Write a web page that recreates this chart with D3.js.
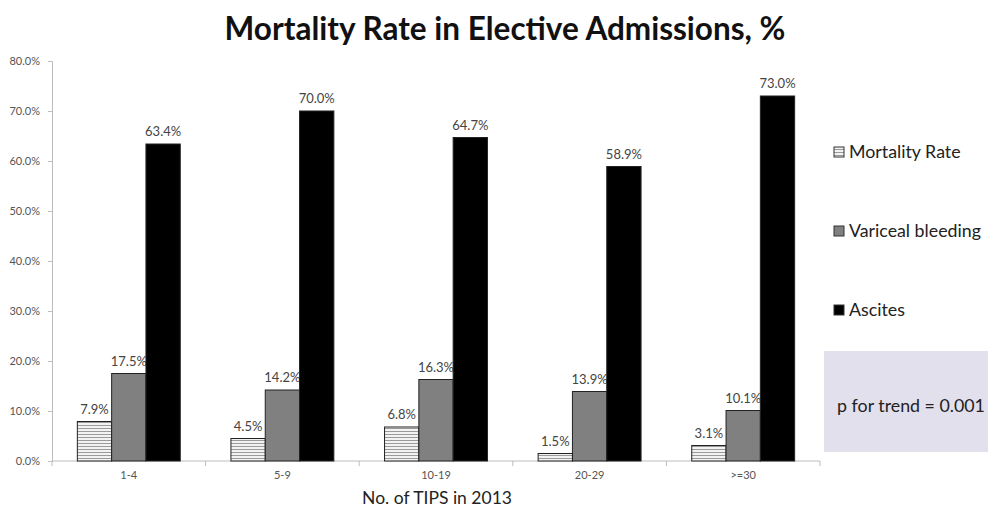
<!DOCTYPE html>
<html><head><meta charset="utf-8">
<script src="https://cdn.jsdelivr.net/npm/d3@7"></script>
<style>body{margin:0;background:#fff;}svg{display:block;}</style>
</head><body>
<svg id="chart" width="988" height="510"></svg>
<script>
const categories = ["1-4","5-9","10-19","20-29",">=30"];
const seriesNames = ["Mortality Rate","Variceal bleeding","Ascites"];
const mortality = [7.9,4.5,6.8,1.5,3.1];
const variceal = [17.5,14.2,16.3,13.9,10.1];
const ascites = [63.4,70.0,64.7,58.9,73.0];
const yTicks = [0,10,20,30,40,50,60,70,80];
const pText = "p for trend = 0.001";

const series = [mortality, variceal, ascites];
const svg = d3.select("#chart");
const font = "Lato, 'Open Sans', sans-serif";

const defs = svg.append("defs");
const pat = defs.append("pattern").attr("id","hatch").attr("patternUnits","userSpaceOnUse")
  .attr("width",4).attr("height",3);
pat.append("rect").attr("width",4).attr("height",3).attr("fill","#f2f2f2");
pat.append("rect").attr("y",2).attr("width",4).attr("height",1).attr("fill","#9a9a9a");

const fills = ["url(#hatch)","#808080","#000000"];

const x0 = d3.scaleBand().domain(categories).range([52,820]).paddingInner(0.33).paddingOuter(0.165);
const x1 = d3.scaleBand().domain(d3.range(3)).range([0,x0.bandwidth()]);
const y = d3.scaleLinear().domain([0,80]).range([461,61]);

svg.append("text").attr("x",505).attr("y",40).attr("text-anchor","middle")
  .attr("font-family",font).attr("font-weight","bold").attr("font-size",31.5).attr("fill","#111")
  .text("Mortality Rate in Elective Admissions, %");

// y axis
const yAxis = svg.append("g").attr("transform","translate(52,0)")
  .call(d3.axisLeft(y).tickValues(yTicks).tickSize(4).tickFormat(d=>d.toFixed(1)+"%"));
yAxis.selectAll("path,line").attr("stroke","#bdbdbd");
yAxis.selectAll("text").attr("font-family",font).attr("font-size",11).attr("fill","#555").attr("dx",-5);

// x axis
const xa = svg.append("g").attr("transform","translate(0,461)");
xa.append("line").attr("x1",52).attr("x2",820).attr("stroke","#bdbdbd");
const bounds = d3.range(categories.length+1).map(i=>52+i*(820-52)/categories.length);
xa.selectAll("line.tk").data(bounds).join("line").attr("class","tk")
  .attr("x1",d=>d).attr("x2",d=>d).attr("y1",0).attr("y2",5).attr("stroke","#bdbdbd");
xa.selectAll("text").data(categories).join("text")
  .attr("x",d=>x0(d)+x0.bandwidth()/2).attr("y",18).attr("text-anchor","middle")
  .attr("font-family",font).attr("font-size",11).attr("fill","#555").text(d=>d);

// bars
const groups = svg.selectAll("g.grp").data(categories).join("g").attr("class","grp")
  .attr("transform",d=>`translate(${x0(d)},0)`);
groups.each(function(c,ci){
  const g = d3.select(this);
  series.forEach((s,si)=>{
    const v = s[ci];
    g.append("rect").attr("x",x1(si)).attr("y",y(v)).attr("width",x1.bandwidth()).attr("height",y(0)-y(v))
      .attr("fill",fills[si]).attr("stroke","#222").attr("stroke-width",1);
    g.append("text").attr("x",x1(si)+x1.bandwidth()/2).attr("y",y(v)-8).attr("text-anchor","middle")
      .attr("font-family",font).attr("font-size",13).attr("fill","#444").text(v.toFixed(1)+"%");
  });
});

svg.append("text").attr("x",437).attr("y",504).attr("text-anchor","middle")
  .attr("font-family",font).attr("font-size",17.5).attr("fill","#222").text("No. of TIPS in 2013");

// legend
const legY = [153,232,311];
seriesNames.forEach((n,i)=>{
  svg.append("rect").attr("x",834).attr("y",legY[i]-6).attr("width",10).attr("height",10)
    .attr("fill",fills[i]).attr("stroke","#333").attr("stroke-width",1);
  svg.append("text").attr("x",849).attr("y",legY[i]+5).attr("font-family",font)
    .attr("font-size",17.8).attr("fill","#222").text(n);
});

// p box
svg.append("rect").attr("x",824).attr("y",351).attr("width",164).attr("height",101).attr("fill","#e3e0ee");
svg.append("text").attr("x",911).attr("y",412).attr("text-anchor","middle").attr("font-family",font)
  .attr("font-size",17.8).attr("fill","#222").text(pText);
</script>
</body></html>
